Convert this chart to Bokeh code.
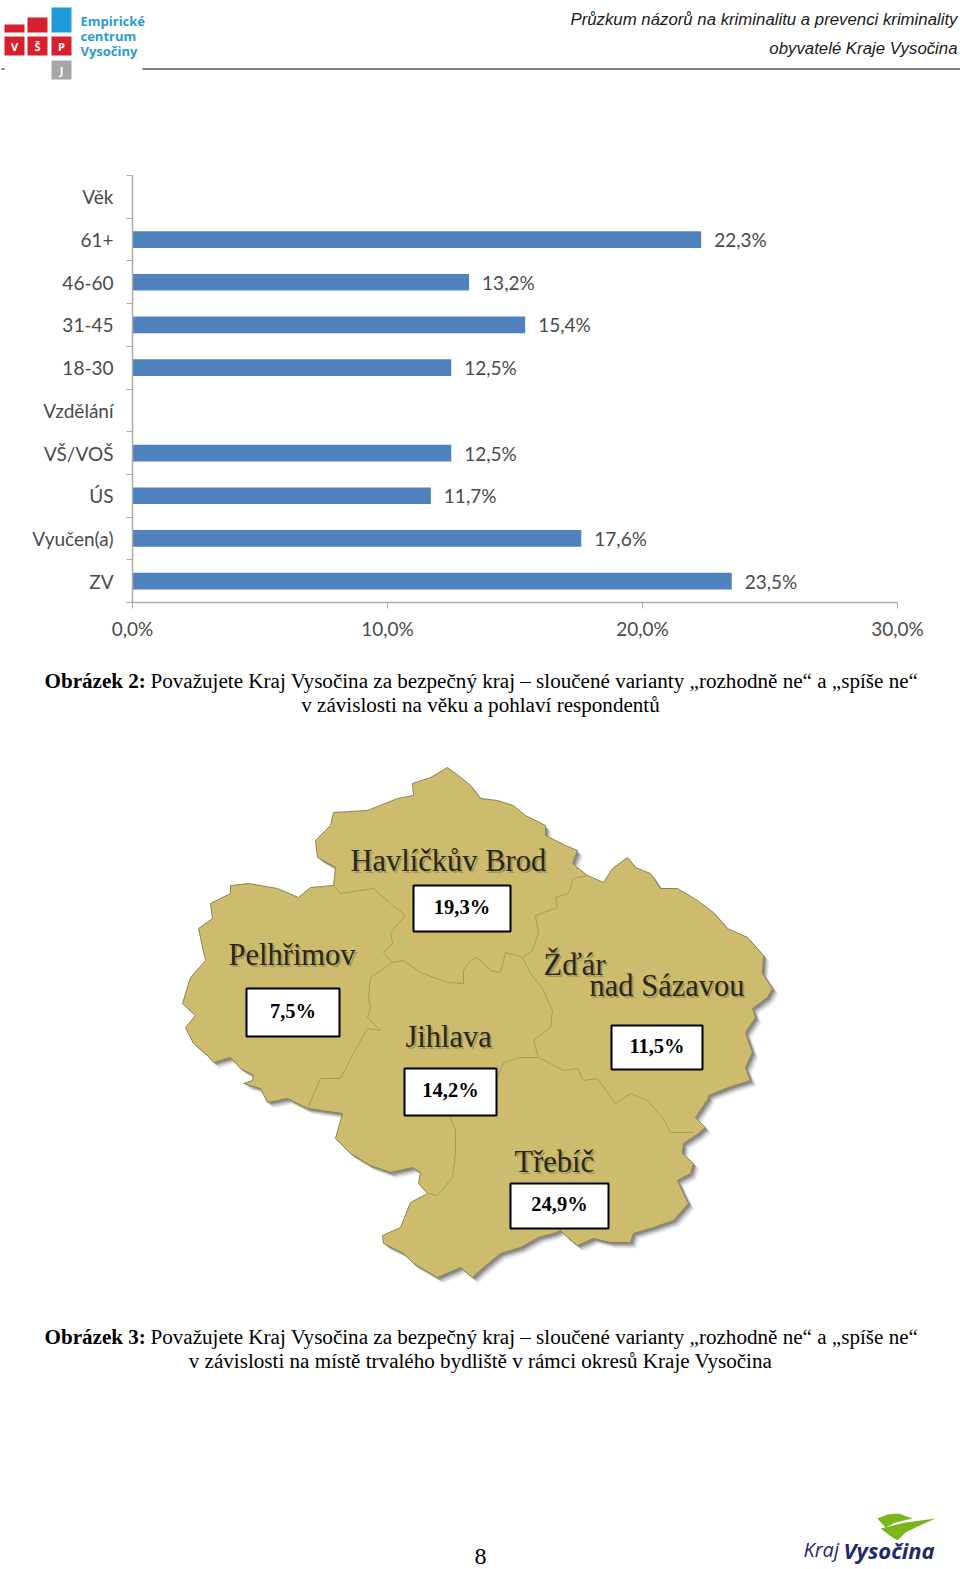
from bokeh.plotting import figure
from bokeh.models import Range1d, FixedTicker, ColumnDataSource
from bokeh.core.properties import value
from bokeh.embed import file_html
from bokeh.resources import INLINE

# ---------- data ----------
categories = ["Věk", "61+", "46-60", "31-45", "18-30", "Vzdělání", "VŠ/VOŠ", "ÚS", "Vyučen(a)", "ZV"]
percent = [None, 22.3, 13.2, 15.4, 12.5, None, 12.5, 11.7, 17.6, 23.5]
x_ticks = [0, 10, 20, 30]
x_tick_labels = ["0,0%", "10,0%", "20,0%", "30,0%"]

caption_lead = "Považujete Kraj Vysočina za bezpečný kraj – sloučené varianty „rozhodně ne“ a „spíše ne“"
caption_2b = "v závislosti na věku a pohlaví respondentů"
caption_3b = "v závislosti na místě trvalého bydliště v rámci okresů Kraje Vysočina"

district_names = ["Havlíčkův Brod", "Pelhřimov", "Jihlava", "Třebíč", "Žďár", "nad Sázavou"]
district_name_x = [350, 228, 405, 514, 543, 589]
district_name_y = [860, 954, 1036, 1161, 964, 985]
district_values = ["19,3%", "7,5%", "14,2%", "11,5%", "24,9%"]
box_left = [413, 246, 404, 611, 510]
box_right = [510, 339, 496, 702, 608]
box_top = [885, 988, 1068, 1025, 1183]
box_bottom = [931, 1036, 1115, 1069, 1228]

outline_x = [447, 458, 470, 480, 497, 513, 525, 545, 545, 565, 577, 572, 587, 603, 612, 627, 635, 650, 660, 677, 697,
             713, 727, 747, 763, 762, 772, 767, 752, 755, 745, 752, 745, 750, 728, 708, 708, 695, 705, 698, 683, 682,
             693, 690, 677, 683, 688, 673, 653, 633, 630, 610, 593, 577, 567, 560, 553, 538, 520, 500, 483, 472, 460,
             437, 413, 403, 383, 382, 400, 410, 427, 418, 420, 412, 390, 370, 350, 335, 342, 307, 287, 267, 260, 243,
             252, 253, 240, 230, 213, 207, 193, 185, 195, 182, 190, 205, 198, 212, 210, 230, 230, 248, 277, 298, 310,
             333, 335, 317, 315, 330, 333, 367, 397, 413, 412, 430]
outline_y = [767, 775, 785, 798, 800, 805, 815, 825, 835, 845, 850, 863, 875, 882, 868, 857, 867, 873, 888, 888, 900,
             912, 928, 937, 955, 973, 988, 997, 1008, 1017, 1032, 1052, 1067, 1080, 1087, 1095, 1098, 1117, 1127, 1133,
             1143, 1153, 1163, 1173, 1180, 1193, 1203, 1220, 1227, 1233, 1242, 1242, 1238, 1245, 1237, 1230, 1233, 1237,
             1247, 1253, 1267, 1277, 1267, 1277, 1263, 1253, 1243, 1235, 1227, 1202, 1193, 1183, 1172, 1167, 1172, 1165,
             1153, 1138, 1113, 1108, 1098, 1102, 1088, 1083, 1080, 1075, 1068, 1057, 1062, 1055, 1043, 1027, 1015, 1003,
             977, 960, 928, 918, 903, 893, 885, 883, 888, 897, 887, 885, 867, 857, 840, 825, 812, 810, 798, 795, 783, 777]

border_pe_hb_x = [333, 340, 373, 390, 405, 390, 392, 383, 392]
border_pe_hb_y = [885, 893, 888, 903, 915, 932, 943, 952, 962]
border_hb_ji_x = [392, 403, 420, 447, 463, 463, 470, 477, 490, 500, 505, 522]
border_hb_ji_y = [962, 960, 972, 982, 983, 970, 960, 957, 970, 972, 952, 957]
border_hb_zr_x = [587, 573, 568, 555, 557, 535, 538, 532, 522]
border_hb_zr_y = [875, 878, 893, 897, 907, 915, 933, 950, 957]
border_ji_zr_x = [522, 530, 542, 552, 550, 533, 538]
border_ji_zr_y = [957, 973, 988, 1010, 1027, 1040, 1057]
border_ji_tr_x = [538, 520, 503, 497, 450, 455, 455, 452, 437, 427]
border_ji_tr_y = [1057, 1057, 1062, 1077, 1117, 1130, 1153, 1177, 1195, 1193]
border_zr_tr_x = [538, 563, 577, 583, 597, 615, 630, 647, 662, 670, 693]
border_zr_tr_y = [1057, 1070, 1068, 1080, 1078, 1103, 1093, 1100, 1117, 1132, 1132]
border_pe_ji_x = [392, 370, 368, 370, 367, 380, 367, 353, 340, 320, 307]
border_pe_ji_y = [962, 977, 997, 1007, 1017, 1030, 1028, 1053, 1078, 1078, 1108]

FONT_SERIF = value("Liberation Serif")
WIDTH = 960


def blank(top, bottom):
    f = figure(width=WIDTH, height=bottom - top, output_backend="svg", toolbar_location=None,
               x_range=Range1d(0, WIDTH), y_range=Range1d(bottom, top), min_border=0)
    f.axis.visible = False
    f.grid.visible = False
    f.outline_line_color = None
    return f


# ---------- header ----------
head = blank(0, 110)
head.quad(left=[4, 27, 51], right=[24, 47, 71], top=[24, 17, 7], bottom=[32, 32, 32],
          fill_color=["#D7202E", "#D7202E", "#1E9AD6"], line_color=None)
head.quad(left=[4, 27, 51, 51], right=[24, 47, 71, 71], top=[36, 36, 36, 60], bottom=[55, 55, 55, 79],
          fill_color=["#D7202E", "#D7202E", "#D7202E", "#A6A6A6"], line_color=None)
head.text(x=[14, 37, 61, 61], y=[46, 46, 46, 70], text=["V", "Š", "P", "J"], text_color="white",
          text_font=value("Open Sans"), text_font_style="bold", text_font_size="11px",
          text_align="center", text_baseline="middle")
head.text(x=[80, 80, 80], y=[20, 35, 50], text=["Empirické", "centrum", "Vysočiny"], text_color="#2A9BD1",
          text_font=value("Open Sans"), text_font_style="bold", text_font_size="13px",
          text_align="left", text_baseline="alphabetic")
head.text(x=[957, 957], y=[19, 48], text=["Průzkum názorů na kriminalitu a prevenci kriminality", "obyvatelé Kraje Vysočina"],
          text_color="#1a1a1a", text_font=value("Liberation Sans"), text_font_style="italic",
          text_font_size="16.8px", text_align="right", text_baseline="alphabetic")
head.segment(x0=[142, 1], y0=[68.5, 68.5], x1=[960, 4], y1=[68.5, 68.5], line_color="black", line_width=1)

# ---------- bar chart ----------
n = len(categories)
centers = [n - 0.5 - i for i in range(n)]
bar_y = [c for c, v in zip(centers, percent) if v is not None]
bar_v = [v for v in percent if v is not None]
bar_t = [f"{v:.1f}".replace(".", ",") + "%" for v in bar_v]
chart = figure(frame_width=765, frame_height=427, width=WIDTH, height=550, output_backend="svg", toolbar_location=None,
               x_range=Range1d(0, 30), y_range=Range1d(0, n),
               min_border_left=132, min_border_right=63, min_border_top=65, min_border_bottom=58)
chart.outline_line_color = None
chart.grid.visible = False
src = ColumnDataSource(dict(y=bar_y, v=bar_v, t=bar_t))
chart.hbar(y="y", left=0, right="v", height=0.39, source=src, fill_color="#4F81BD", line_color=None)
chart.text(x="v", y="y", text="t", source=src, x_offset=13, text_align="left", text_baseline="middle",
           text_font=value("Lato"), text_font_size="19px", text_color="#4a4a4a")
xa = chart.xaxis[0]
xa.ticker = FixedTicker(ticks=x_ticks)
xa.major_label_overrides = {t: s for t, s in zip(x_ticks, x_tick_labels)}
xa.major_tick_out = 6
xa.major_tick_in = 0
xa.minor_tick_out = 0
xa.minor_tick_in = 0
xa.major_label_standoff = 8
ya = chart.yaxis[0]
ya.ticker = FixedTicker(ticks=centers, minor_ticks=list(range(n + 1)))
ya.major_label_overrides = {c: s for c, s in zip(centers, categories)}
ya.major_tick_out = 0
ya.major_tick_in = 0
ya.minor_tick_out = 6
ya.minor_tick_in = 0
ya.major_label_standoff = 13
for a in (xa, ya):
    a.axis_line_color = "#ABABAB"
    a.axis_line_width = 1.5
    a.major_tick_line_color = "#ABABAB"
    a.minor_tick_line_color = "#ABABAB"
    a.major_label_text_font = "Lato"
    a.major_label_text_font_size = "19px"
    a.major_label_text_color = "#4a4a4a"

# ---------- captions, map, footer ----------
low = blank(660, 1569)
for y, lead, second, num in [(680, caption_lead, caption_2b, "Obrázek 2:"), (1336, caption_lead, caption_3b, "Obrázek 3:")]:
    low.text(x=[44], y=[y], text=[num], text_font=FONT_SERIF, text_font_style="bold", text_font_size="21.1px",
             text_color="black", text_baseline="alphabetic")
    low.text(x=[150], y=[y], text=[lead], text_font=FONT_SERIF, text_font_size="21.1px",
             text_color="black", text_baseline="alphabetic")
    low.text(x=[480], y=[y + 24], text=[second], text_font=FONT_SERIF, text_font_size="21.1px",
             text_color="black", text_baseline="alphabetic", text_align="center")

# drop shadow, then the region
for dx, dy, a in [(6, 6, 0.07), (5, 5, 0.10), (4, 4, 0.14), (3, 3, 0.2), (2, 2, 0.3)]:
    low.patch([v + dx for v in outline_x], [v + dy for v in outline_y], fill_color="#404040", fill_alpha=a, line_color=None)
low.patch(outline_x, outline_y, fill_color="#CDBC6E", line_color="#8C8252", line_width=1)
for bx, by in [(border_pe_hb_x, border_pe_hb_y), (border_hb_ji_x, border_hb_ji_y), (border_hb_zr_x, border_hb_zr_y),
               (border_ji_zr_x, border_ji_zr_y), (border_ji_tr_x, border_ji_tr_y), (border_zr_tr_x, border_zr_tr_y),
               (border_pe_ji_x, border_pe_ji_y)]:
    low.line(bx, by, line_color="#A89B50", line_width=1)

# district names (soft shadow + text)
low.text(x=[v + 2 for v in district_name_x], y=[v + 2 for v in district_name_y], text=district_names,
         text_font=FONT_SERIF, text_font_size="30.5px", text_color="#5a5230", text_alpha=0.35,
         text_align="left", text_baseline="middle")
low.text(x=district_name_x, y=district_name_y, text=district_names,
         text_font=FONT_SERIF, text_font_size="30.5px", text_color="#2a2613",
         text_align="left", text_baseline="middle")

low.quad(left=box_left, right=box_right, top=box_top, bottom=box_bottom,
         fill_color="white", line_color="black", line_width=2)
low.text(x=[(a + b) / 2 for a, b in zip(box_left, box_right)], y=[(a + b) / 2 for a, b in zip(box_top, box_bottom)],
         text=district_values, y_offset=-2, text_font=FONT_SERIF, text_font_style="bold", text_font_size="20.5px",
         text_color="black", text_align="center", text_baseline="middle")

low.text(x=[480], y=[1556], text=["8"], text_font=FONT_SERIF, text_font_size="24px", text_color="black",
         text_align="center", text_baseline="alphabetic")

# Kraj Vysočina logo
low.patch([877, 887, 898, 912, 895, 885], [1518, 1514, 1513, 1518, 1522, 1527], fill_color="#7AB51D", line_color=None)
low.patch([880, 905, 935, 915, 905, 897, 892], [1528, 1522, 1518, 1527, 1532, 1540, 1537], fill_color="#7AB51D", line_color=None)
low.text(x=[803], y=[1549], text=["Kraj"], text_font=value("Open Sans"), text_font_style="italic",
         text_font_size="20px", text_color="#1F2A6D", text_baseline="alphabetic")
low.text(x=[843], y=[1549], text=["Vysočina"], text_font=value("Open Sans"), text_font_style="bold italic",
         text_font_size="22px", text_color="#1F2A6D", text_baseline="alphabetic")

open("out.html", "w").write(file_html([head, chart, low], INLINE))
